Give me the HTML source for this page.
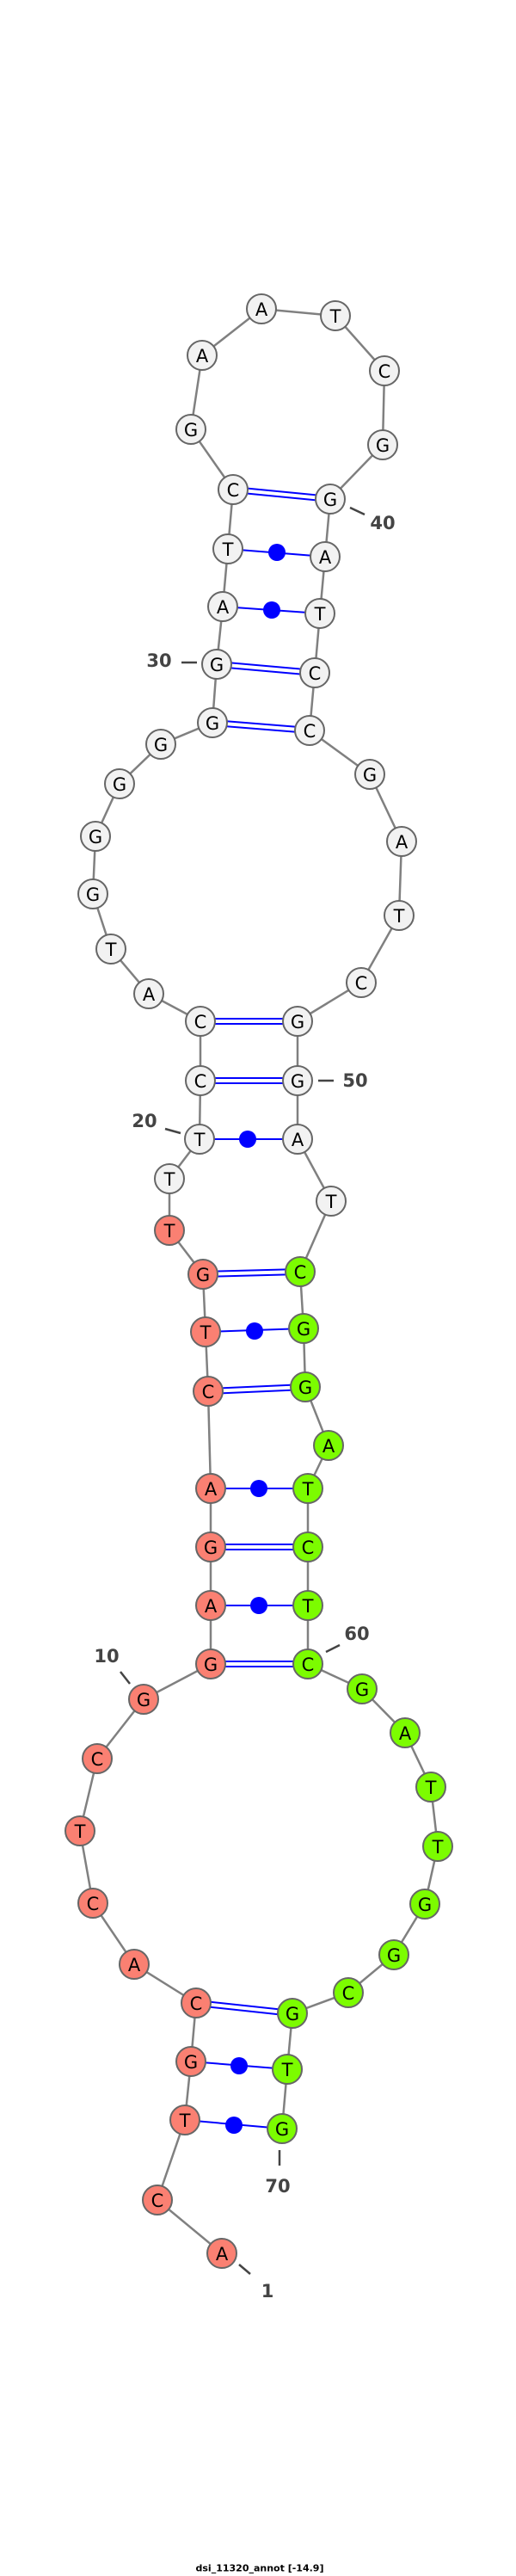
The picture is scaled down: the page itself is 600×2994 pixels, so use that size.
<!DOCTYPE html>
<html><head><meta charset="utf-8"><style>
html,body{margin:0;padding:0;background:#fff;width:600px;height:2994px;overflow:hidden}
svg{display:block}
.n{stroke:#666;stroke-width:2}
.w{fill:#f2f2f2}.r{fill:#fa8072}.g{fill:#7cfc00}
text.l{font-family:"DejaVu Sans","Liberation Sans",sans-serif;font-size:21px;text-anchor:middle;dominant-baseline:central;fill:#000}
text.num{font-family:"DejaVu Sans","Liberation Sans",sans-serif;font-size:21px;font-weight:bold;fill:#444;text-anchor:middle;dominant-baseline:central}
.bb{fill:none;stroke:#808080;stroke-width:2.5}
.p{stroke:#0000ff;stroke-width:2;fill:none}
.t{stroke:#444;stroke-width:2.5}
</style></head><body>
<svg width="600" height="2994" viewBox="0 0 600 2994" xmlns="http://www.w3.org/2000/svg">
<polyline class="bb" points="258,2619 183,2557 215,2464 222,2396 228,2328 156,2283 108,2212 93,2128 113,2044 167,1975 245,1934 245,1866 245,1798 245,1730 242,1617 239,1548 236,1481 197,1430 197,1370 232,1324 233,1256 233,1187 173,1155 129,1103 108,1039 111,972 139,911 187,865 247,840 252,772 259,705 265,638 271,569 222,499 235,413 304,359 390,367 447,431 445,517 384,580 378,647 372,713 366,782 360,849 430,900 467,978 464,1064 420,1142 346,1187 346,1256 346,1324 385,1396 349,1478 353,1544 355,1612 382,1680 358,1730 358,1798 358,1866 358,1934 421,1963 471,2014 501,2077 509,2146 494,2213 458,2272 405,2316 340,2340 334,2405 328,2474"/>
<g class="p">
<line x1="228" y1="2325" x2="340" y2="2337"/><line x1="228" y1="2331" x2="340" y2="2343"/>
<line x1="245" y1="1931" x2="358" y2="1931"/><line x1="245" y1="1937" x2="358" y2="1937"/>
<line x1="245" y1="1795" x2="358" y2="1795"/><line x1="245" y1="1801" x2="358" y2="1801"/>
<line x1="242" y1="1614" x2="355" y2="1609"/><line x1="242" y1="1620" x2="355" y2="1615"/>
<line x1="236" y1="1478" x2="349" y2="1475"/><line x1="236" y1="1484" x2="349" y2="1481"/>
<line x1="233" y1="1253" x2="346" y2="1253"/><line x1="233" y1="1259" x2="346" y2="1259"/>
<line x1="233" y1="1184" x2="346" y2="1184"/><line x1="233" y1="1190" x2="346" y2="1190"/>
<line x1="247" y1="837" x2="360" y2="846"/><line x1="247" y1="843" x2="360" y2="852"/>
<line x1="252" y1="769" x2="366" y2="779"/><line x1="252" y1="775" x2="366" y2="785"/>
<line x1="271" y1="566" x2="384" y2="577"/><line x1="271" y1="572" x2="384" y2="583"/>
<line x1="222" y1="2396" x2="334" y2="2405"/>
<line x1="215" y1="2464" x2="328" y2="2474"/>
<line x1="245" y1="1866" x2="358" y2="1866"/>
<line x1="245" y1="1730" x2="358" y2="1730"/>
<line x1="239" y1="1548" x2="353" y2="1544"/>
<line x1="232" y1="1324" x2="346" y2="1324"/>
<line x1="259" y1="705" x2="372" y2="713"/>
<line x1="265" y1="638" x2="378" y2="647"/>
</g>
<g fill="#0000ff">
<circle cx="278" cy="2401" r="10"/><circle cx="272" cy="2470" r="10"/>
<circle cx="301" cy="1866" r="10"/><circle cx="301" cy="1730" r="10"/>
<circle cx="296" cy="1547" r="10"/><circle cx="288" cy="1324" r="10"/>
<circle cx="316" cy="709" r="10"/><circle cx="322" cy="642" r="10"/>
</g>
<line class="t" x1="407" y1="590" x2="424" y2="598"/>
<line class="t" x1="211" y1="770" x2="229" y2="770"/>
<line class="t" x1="370" y1="1256" x2="388" y2="1256"/>
<line class="t" x1="192" y1="1312" x2="210" y2="1317"/>
<line class="t" x1="379" y1="1920" x2="395" y2="1912"/>
<line class="t" x1="140" y1="1943" x2="151" y2="1957"/>
<line class="t" x1="325" y1="2499" x2="325" y2="2517"/>
<line class="t" x1="278" y1="2632" x2="291" y2="2643"/>
<text class="num" x="445" y="608">40</text>
<text class="num" x="185" y="768">30</text>
<text class="num" x="413" y="1256">50</text>
<text class="num" x="168" y="1303">20</text>
<text class="num" x="415" y="1899">60</text>
<text class="num" x="124" y="1925">10</text>
<text class="num" x="323" y="2541">70</text>
<text class="num" x="311" y="2663">1</text>
<g class="n">
<circle class="r" cx="258" cy="2619" r="17"/><circle class="r" cx="183" cy="2557" r="17"/><circle class="r" cx="215" cy="2464" r="17"/><circle class="r" cx="222" cy="2396" r="17"/><circle class="r" cx="228" cy="2328" r="17"/><circle class="r" cx="156" cy="2283" r="17"/><circle class="r" cx="108" cy="2212" r="17"/><circle class="r" cx="93" cy="2128" r="17"/><circle class="r" cx="113" cy="2044" r="17"/><circle class="r" cx="167" cy="1975" r="17"/><circle class="r" cx="245" cy="1934" r="17"/><circle class="r" cx="245" cy="1866" r="17"/><circle class="r" cx="245" cy="1798" r="17"/><circle class="r" cx="245" cy="1730" r="17"/><circle class="r" cx="242" cy="1617" r="17"/><circle class="r" cx="239" cy="1548" r="17"/><circle class="r" cx="236" cy="1481" r="17"/><circle class="r" cx="197" cy="1430" r="17"/>
<circle class="w" cx="197" cy="1370" r="17"/><circle class="w" cx="232" cy="1324" r="17"/><circle class="w" cx="233" cy="1256" r="17"/><circle class="w" cx="233" cy="1187" r="17"/><circle class="w" cx="173" cy="1155" r="17"/><circle class="w" cx="129" cy="1103" r="17"/><circle class="w" cx="108" cy="1039" r="17"/><circle class="w" cx="111" cy="972" r="17"/><circle class="w" cx="139" cy="911" r="17"/><circle class="w" cx="187" cy="865" r="17"/><circle class="w" cx="247" cy="840" r="17"/><circle class="w" cx="252" cy="772" r="17"/><circle class="w" cx="259" cy="705" r="17"/><circle class="w" cx="265" cy="638" r="17"/><circle class="w" cx="271" cy="569" r="17"/><circle class="w" cx="222" cy="499" r="17"/><circle class="w" cx="235" cy="413" r="17"/><circle class="w" cx="304" cy="359" r="17"/><circle class="w" cx="390" cy="367" r="17"/><circle class="w" cx="447" cy="431" r="17"/><circle class="w" cx="445" cy="517" r="17"/><circle class="w" cx="384" cy="580" r="17"/><circle class="w" cx="378" cy="647" r="17"/><circle class="w" cx="372" cy="713" r="17"/><circle class="w" cx="366" cy="782" r="17"/><circle class="w" cx="360" cy="849" r="17"/><circle class="w" cx="430" cy="900" r="17"/><circle class="w" cx="467" cy="978" r="17"/><circle class="w" cx="464" cy="1064" r="17"/><circle class="w" cx="420" cy="1142" r="17"/><circle class="w" cx="346" cy="1187" r="17"/><circle class="w" cx="346" cy="1256" r="17"/><circle class="w" cx="346" cy="1324" r="17"/><circle class="w" cx="385" cy="1396" r="17"/>
<circle class="g" cx="349" cy="1478" r="17"/><circle class="g" cx="353" cy="1544" r="17"/><circle class="g" cx="355" cy="1612" r="17"/><circle class="g" cx="382" cy="1680" r="17"/><circle class="g" cx="358" cy="1730" r="17"/><circle class="g" cx="358" cy="1798" r="17"/><circle class="g" cx="358" cy="1866" r="17"/><circle class="g" cx="358" cy="1934" r="17"/><circle class="g" cx="421" cy="1963" r="17"/><circle class="g" cx="471" cy="2014" r="17"/><circle class="g" cx="501" cy="2077" r="17"/><circle class="g" cx="509" cy="2146" r="17"/><circle class="g" cx="494" cy="2213" r="17"/><circle class="g" cx="458" cy="2272" r="17"/><circle class="g" cx="405" cy="2316" r="17"/><circle class="g" cx="340" cy="2340" r="17"/><circle class="g" cx="334" cy="2405" r="17"/><circle class="g" cx="328" cy="2474" r="17"/>
</g>
<g>
<text class="l" x="258" y="2620">A</text><text class="l" x="183" y="2558">C</text><text class="l" x="215" y="2465">T</text><text class="l" x="222" y="2397">G</text><text class="l" x="228" y="2329">C</text><text class="l" x="156" y="2284">A</text><text class="l" x="108" y="2213">C</text><text class="l" x="93" y="2129">T</text><text class="l" x="113" y="2045">C</text><text class="l" x="167" y="1976">G</text><text class="l" x="245" y="1935">G</text><text class="l" x="245" y="1867">A</text><text class="l" x="245" y="1799">G</text><text class="l" x="245" y="1731">A</text><text class="l" x="242" y="1618">C</text><text class="l" x="239" y="1549">T</text><text class="l" x="236" y="1482">G</text><text class="l" x="197" y="1431">T</text>
<text class="l" x="197" y="1371">T</text><text class="l" x="232" y="1325">T</text><text class="l" x="233" y="1257">C</text><text class="l" x="233" y="1188">C</text><text class="l" x="173" y="1156">A</text><text class="l" x="129" y="1104">T</text><text class="l" x="108" y="1040">G</text><text class="l" x="111" y="973">G</text><text class="l" x="139" y="912">G</text><text class="l" x="187" y="866">G</text><text class="l" x="247" y="841">G</text><text class="l" x="252" y="773">G</text><text class="l" x="259" y="706">A</text><text class="l" x="265" y="639">T</text><text class="l" x="271" y="570">C</text><text class="l" x="222" y="500">G</text><text class="l" x="235" y="414">A</text><text class="l" x="304" y="360">A</text><text class="l" x="390" y="368">T</text><text class="l" x="447" y="432">C</text><text class="l" x="445" y="518">G</text><text class="l" x="384" y="581">G</text><text class="l" x="378" y="648">A</text><text class="l" x="372" y="714">T</text><text class="l" x="366" y="783">C</text><text class="l" x="360" y="850">C</text><text class="l" x="430" y="901">G</text><text class="l" x="467" y="979">A</text><text class="l" x="464" y="1065">T</text><text class="l" x="420" y="1143">C</text><text class="l" x="346" y="1188">G</text><text class="l" x="346" y="1257">G</text><text class="l" x="346" y="1325">A</text><text class="l" x="385" y="1397">T</text>
<text class="l" x="349" y="1479">C</text><text class="l" x="353" y="1545">G</text><text class="l" x="355" y="1613">G</text><text class="l" x="382" y="1681">A</text><text class="l" x="358" y="1731">T</text><text class="l" x="358" y="1799">C</text><text class="l" x="358" y="1867">T</text><text class="l" x="358" y="1935">C</text><text class="l" x="421" y="1964">G</text><text class="l" x="471" y="2015">A</text><text class="l" x="501" y="2078">T</text><text class="l" x="509" y="2147">T</text><text class="l" x="494" y="2214">G</text><text class="l" x="458" y="2273">G</text><text class="l" x="405" y="2317">C</text><text class="l" x="340" y="2341">G</text><text class="l" x="334" y="2406">T</text><text class="l" x="328" y="2475">G</text>
</g>
<text x="302" y="2985" font-family="'DejaVu Sans','Liberation Sans',sans-serif" font-size="11" font-weight="bold" text-anchor="middle" dominant-baseline="central" fill="#000">dsi_11320_annot [-14.9]</text>
</svg>
</body></html>
